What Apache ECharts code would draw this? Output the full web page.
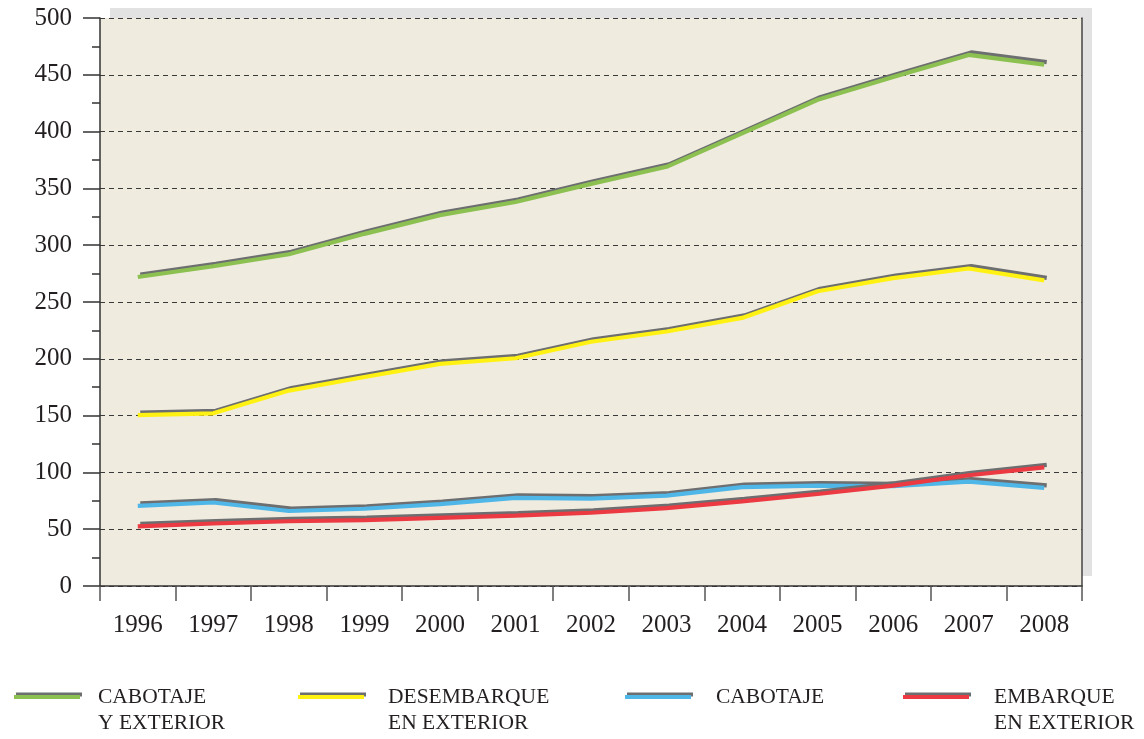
<!DOCTYPE html>
<html>
<head>
<meta charset="utf-8">
<script src="https://cdn.jsdelivr.net/npm/echarts@6/dist/echarts.min.js"></script>
<style>
  html, body { margin: 0; padding: 0; background: #fff; }
  #chart { width: 1144px; height: 739px; }
</style>
</head>
<body>
<div id="chart"></div>
<script>
  // años
  var years = ['1996', '1997', '1998', '1999', '2000', '2001', '2002', '2003', '2004', '2005', '2006', '2007', '2008'];
  // series
  var cabotajeExterior = [272, 281.5, 292, 310, 326.5, 338, 354, 369, 398.5, 428, 448, 467.5, 459];
  var desembarqueExterior = [150.5, 152, 172, 184, 195.5, 200.5, 215, 224, 236, 259.5, 271, 279.5, 269];
  var cabotaje = [70.5, 73.5, 66, 68, 72, 77.5, 77, 79.5, 87, 88.3, 87.8, 91.8, 86.3];
  var embarqueExterior = [52.5, 55, 57, 58, 60, 62, 64.5, 68.5, 74.5, 81, 88.3, 97.5, 104.5];

  var names = ['CABOTAJE\nY EXTERIOR', 'DESEMBARQUE\nEN EXTERIOR', 'CABOTAJE', 'EMBARQUE\nEN EXTERIOR'];
  var colors = ['#8cc152', '#fff212', '#4fb6e8', '#ec3a43'];
  var values = [cabotajeExterior, desembarqueExterior, cabotaje, embarqueExterior];

  var serif = 'Liberation Serif';
  var textColor = '#231f20';
  var shadowGray = '#6d6e70';

  var myChart = echarts.init(document.getElementById('chart'));

  // una serie por cada linea, con sombra gris encima
  var series = values.map(function (data, i) {
    return {
      name: names[i],
      type: 'line',
      data: data,
      symbol: 'none',
      z: 2 + i,
      itemStyle: {color: colors[i]},
      lineStyle: {
        color: colors[i],
        width: 4.2,
        shadowColor: shadowGray,
        shadowBlur: 0,
        shadowOffsetX: 2.5,
        shadowOffsetY: -2.5
      }
    }
  })

  // leyendas separadas, una por item
  var legendLeft = [12, 296, 623, 901];
  var legendPad = [13, 19, 20, 20];
  var legends = names.map(function (n, i) {
    var twoLines = n.indexOf('\n') >= 0;
    return {
      data: [n],
      left: legendLeft[i],
      top: twoLines ? 658 : 684,
      orient: 'horizontal',
      selectedMode: false,
      itemWidth: 66,
      itemHeight: 14,
      padding: 0,
      // primera linea del texto alineada con el icono
      formatter: function (name) {
        return twoLines ? '\n' + name : name
      },
      itemStyle: {color: 'rgba(0,0,0,0)', borderWidth: 0, opacity: 0},
      lineStyle: {
        color: colors[i],
        width: 4,
        shadowColor: shadowGray,
        shadowBlur: 0,
        shadowOffsetX: 2,
        shadowOffsetY: -2.5
      },
      textStyle: {
        fontFamily: serif,
        fontSize: 21.5,
        lineHeight: 26,
        color: textColor,
        padding: [0, 0, 0, legendPad[i]]
      }
    }
  })

  var option = {
    animation: false,
    backgroundColor: '#ffffff',
    legend: legends,
    grid: {
      left: 100,
      right: 62,
      top: 18,
      bottom: 153,
      show: true,
      backgroundColor: '#f0ebdf',
      borderWidth: 0,
      shadowColor: '#e2e2e3',
      shadowBlur: 0,
      shadowOffsetX: 10,
      shadowOffsetY: -10
    },
    xAxis: {
      type: 'category',
      data: years,
      boundaryGap: true,
      axisLine: {lineStyle: {color: '#333333', width: 1.5}},
      axisTick: {show: true, interval: 0, length: 15, lineStyle: {color: '#555555', width: 1.5}},
      axisLabel: {
        interval: 0,
        margin: 27,
        fontFamily: serif,
        fontSize: 25,
        color: textColor
      },
      splitLine: {show: false}
    },
    yAxis: [
      {
        type: 'value',
        min: 0,
        max: 500,
        interval: 50,
        axisLine: {show: true, lineStyle: {color: '#333333', width: 1.5}},
        axisTick: {show: true, length: 17, lineStyle: {color: '#333333', width: 1.5}},
        minorTick: {show: true, splitNumber: 2, length: 8, lineStyle: {color: '#333333', width: 1.5}},
        axisLabel: {
          margin: 28,
          fontFamily: serif,
          fontSize: 25,
          color: textColor
        },
        splitLine: {
          show: true,
          lineStyle: {color: '#3a3a3a', width: 1.2, type: [5, 4]}
        }
      },
      {
        type: 'value',
        position: 'right',
        min: 0,
        max: 500,
        interval: 50,
        axisLine: {show: true, lineStyle: {color: '#444444', width: 1.5}},
        axisTick: {show: false},
        axisLabel: {show: false},
        splitLine: {show: false}
      }
    ],
    series: series
  };

  myChart.clear();
  myChart.setOption(option);
</script>
</body>
</html>
